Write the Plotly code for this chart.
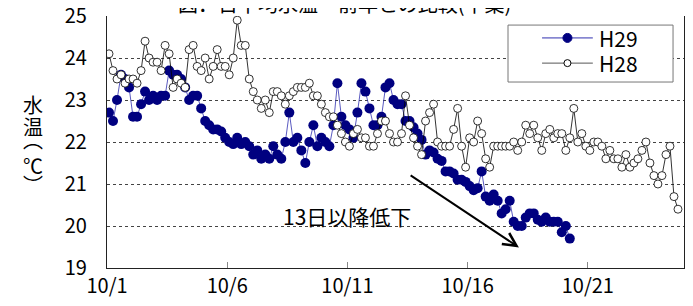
import plotly.graph_objects as go

tick_pos = [0, 30, 60, 90, 120]
tick_labels = ['10/1', '10/6', '10/11', '10/16', '10/21']

h29 = [22.7, 22.5, 23.0, 23.6, 23.5, 23.3, 22.6, 22.6, 22.9, 23.2,
       23.0, 23.1, 23.0, 23.1, 23.1, 23.7, 23.6, 23.6, 23.5, 23.3,
       23.0, 23.1, 23.1, 22.8, 22.5, 22.4, 22.3, 22.3, 22.25, 22.1,
       22.0, 21.95, 22.1, 21.95, 22.0, 21.9, 21.7, 21.8, 21.6, 21.7,
       21.6, 21.9, 21.7, 21.6, 22.0, 22.7, 22.0, 22.1, 21.8, 21.5,
       22.0, 22.4, 21.9, 22.1, 22.0, 21.9, 22.4, 23.4, 22.6, 22.4,
       22.3, 22.1, 22.7, 23.4, 23.2, 22.8, 22.4, 22.4, 22.6, 23.3,
       23.4, 23.0, 22.9, 22.9, 22.5, 22.5, 22.35, 22.2, 22.05, 21.7,
       21.8, 21.75, 21.6, 21.55, 21.3, 21.3, 21.25, 21.1, 21.1, 21.05,
       20.95, 20.85, 20.9, 21.3, 20.7, 20.6, 20.75, 20.6, 20.3, 20.4,
       20.6, 20.1, 20.0, 20.0, 20.2, 20.3, 20.3, 20.15, 20.1, 20.2,
       20.1, 20.1, 20.1, 19.85, 20.0, 19.7]

h28 = [24.1, 23.7, 23.5, 23.6, 23.4, 23.5, 23.5, 23.4, 23.7, 24.4,
       24.0, 23.9, 23.9, 23.7, 24.3, 24.1, 23.3, 23.5, 23.4, 23.3,
       24.2, 24.3, 23.8, 23.7, 24.0, 23.5, 23.8, 24.2, 23.8, 23.8,
       23.6, 24.0, 24.9, 24.3, 24.3, 23.5, 23.2, 23.0, 22.8, 23.0,
       22.7, 23.2, 23.2, 23.1, 22.9, 23.1, 23.2, 23.3, 23.3, 23.3,
       23.4, 23.1, 23.1, 22.9, 22.7, 22.6, 22.6, 22.4, 22.2, 22.0,
       21.9, 22.2, 22.3, 22.1, 22.1, 21.9, 21.9, 22.2, 22.5, 22.5,
       22.2, 22.0, 22.0, 22.2, 23.1, 22.4, 22.1, 21.9, 21.7, 22.5,
       22.7, 22.9, 22.0, 21.9, 21.9, 21.9, 22.3, 22.8, 21.9, 21.4,
       22.1, 22.0, 22.5, 22.2, 21.6, 21.4, 21.9, 21.9, 21.9, 21.9,
       21.9, 22.0, 21.8, 22.0, 22.4, 22.2, 22.4, 22.1, 21.8, 22.2,
       22.3, 22.1, 22.2, 22.2, 21.8, 22.1, 22.8, 22.0, 22.2, 21.9,
       21.8, 22.0, 22.0, 21.9, 21.6, 21.8, 21.6, 21.6, 21.4, 21.7,
       21.4, 21.5, 21.6, 21.8, 22.0, 21.5, 21.2, 21.0, 21.2, 21.7,
       21.9, 20.7, 20.4]

n_cat = 144
x29 = [i + 0.5 for i in range(len(h29))]
x28 = [i + 0.5 for i in range(len(h28))]

FONT = "Noto Sans CJK JP"
H29_MARK = '#000080'
H29_LINE = '#3030b0'

fig = go.Figure()
fig.add_trace(go.Scatter(
    x=x29, y=h29, name='H29', mode='lines+markers',
    line=dict(color=H29_LINE, width=0.8),
    marker=dict(color=H29_MARK, size=10, line=dict(width=0)),
))
fig.add_trace(go.Scatter(
    x=x28, y=h28, name='H28', mode='lines+markers',
    line=dict(color='#000000', width=0.8),
    marker=dict(color='#ffffff', size=8, line=dict(color='#000000', width=0.8)),
))

fig.update_layout(
    width=685, height=298,
    margin=dict(l=99, r=9, t=8, b=38, autoexpand=False),
    paper_bgcolor='white', plot_bgcolor='white',
    font=dict(family=FONT, size=20, color='black'),
    showlegend=False,
    xaxis=dict(range=[0, n_cat], tickvals=tick_pos, ticktext=tick_labels,
               automargin=False, ticklabeloverflow='allow',
               showgrid=False, zeroline=False, showline=True,
               linecolor='#222', linewidth=1.2, ticks='inside', ticklen=6,
               tickcolor='#888', tickfont=dict(size=20, family=FONT)),
    yaxis=dict(range=[19, 25], dtick=1, showgrid=True, gridcolor='#444',
               automargin=False, ticklabeloverflow='allow',
               griddash='dot', gridwidth=1, zeroline=False, showline=True,
               linecolor='#222', linewidth=1.2, mirror=True, ticks='',
               ticklabelstandoff=15, tickfont=dict(size=20, family=FONT)),
)

# legend box drawn by hand (line samples longer than plotly's built-in ones)
fig.add_shape(type='rect', xref='paper', yref='paper', x0=0.695, x1=0.981,
              y0=0.738, y1=0.964, line=dict(color='#777', width=1),
              fillcolor='white', layer='above')
legend_rows = [('H29', 0.913, H29_LINE, H29_MARK, H29_MARK, 4.5),
               ('H28', 0.813, '#555', '#ffffff', '#000000', 3.5)]
for name, yy, lc, fc, oc, r in legend_rows:
    fig.add_shape(type='line', xref='paper', yref='paper', x0=0.754, x1=0.842,
                  y0=yy, y1=yy, line=dict(color=lc, width=1), layer='above')
    fig.add_shape(type='circle', xref='paper', yref='paper',
                  xsizemode='pixel', ysizemode='pixel',
                  xanchor=0.798, yanchor=yy, x0=-r, x1=r, y0=-r, y1=r,
                  fillcolor=fc, line=dict(color=oc, width=1), layer='above')
    fig.add_annotation(x=0.849, y=yy, xref='paper', yref='paper',
                       xanchor='left', yanchor='middle', text=name,
                       showarrow=False, font=dict(size=21, family=FONT))

fig.add_annotation(
    x=102.8, y=19.49, ax=75.4, ay=21.23, xref='x', yref='y', axref='x', ayref='y',
    showarrow=True, arrowhead=5, arrowsize=1.3, arrowwidth=2, arrowcolor='black',
    text='')
fig.add_annotation(
    x=59.9, y=20.25, xref='x', yref='y', text='13日以降低下', showarrow=False,
    font=dict(size=21, family=FONT))

ylab_chars = ['水', '温', '︵', '℃', '︶']
ylab_pos = [0.647, 0.56, 0.508, 0.405, 0.33]
for ch, yy in zip(ylab_chars, ylab_pos):
    fig.add_annotation(x=-0.128, y=yy, xref='paper', yref='paper',
                       xanchor='center', yanchor='middle', text=ch,
                       showarrow=False, font=dict(size=20, family=FONT))

fig.add_annotation(
    x=0.412, y=0.984, xref='paper', yref='paper', yanchor='bottom',
    xanchor='center', text='図．日平均水温　前年との比較(千葉)', showarrow=False,
    font=dict(size=20, family=FONT))

fig.write_html('out.html')
